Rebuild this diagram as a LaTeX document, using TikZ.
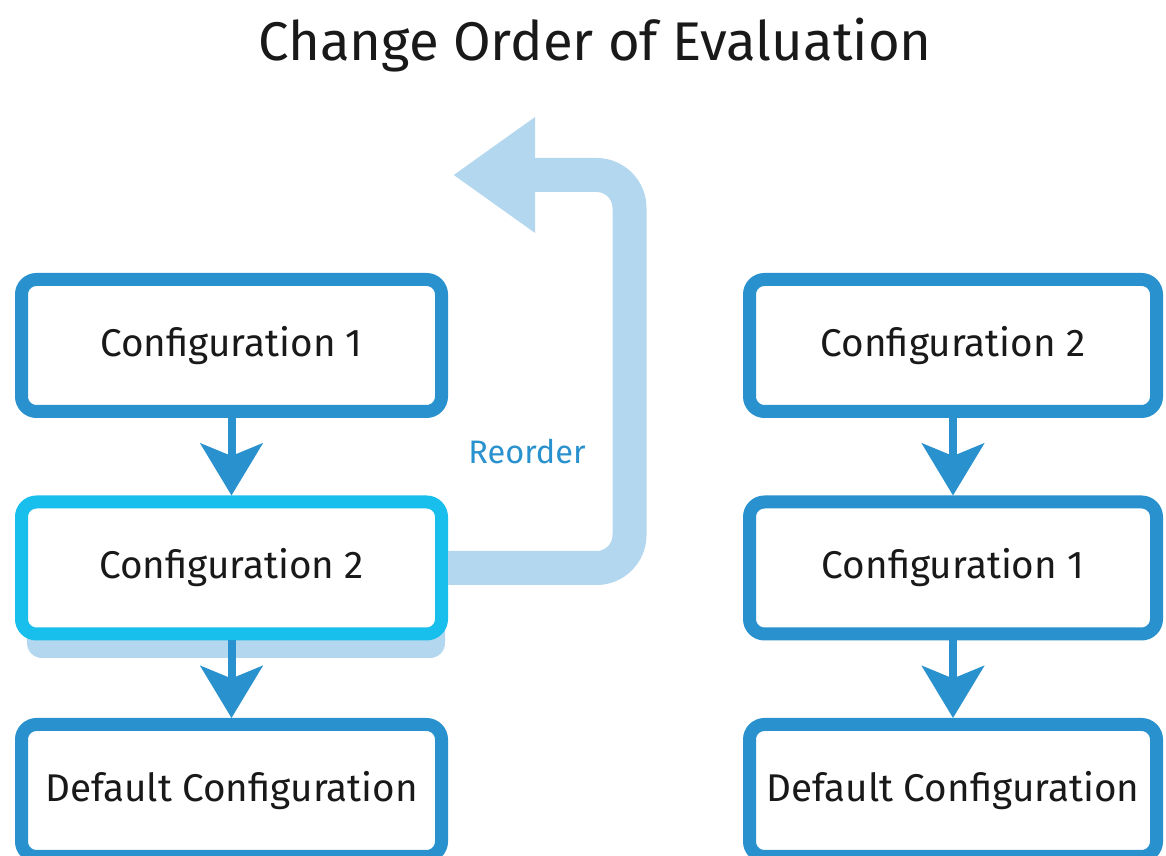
\documentclass[tikz,border=0pt]{standalone}
\usepackage{fontspec}
\setmainfont{Fira Sans}
\usetikzlibrary{arrows.meta,positioning}
\definecolor{boxBlue}{RGB}{41,145,205}
\definecolor{activeCyan}{RGB}{24,190,236}
\definecolor{paleBlue}{RGB}{179,215,238}
\definecolor{inkGray}{RGB}{25,25,25}

\begin{document}
\begin{tikzpicture}[
    config/.style={
        draw=boxBlue,
        fill=white,
        line width=0.26cm,
        rounded corners=0.3cm,
        minimum width=8.4cm,
        minimum height=2.64cm,
        text=inkGray,
        font=\fontsize{22}{26}\selectfont
    },
    active config/.style={
        config,
        draw=activeCyan
    },
    flow/.style={
        boxBlue,
        line width=0.16cm,
        -{Stealth[length=1.04cm,width=1.24cm,inset=0.25cm]}
    },
    reorder/.style={
        paleBlue,
        line width=0.68cm,
        rounded corners=0.66cm,
        -{Triangle[length=1.64cm,width=2.2cm]}
    }
]
\useasboundingbox (0,0) rectangle (23.32,17.12);

%------------------------------------------------
% Title
%------------------------------------------------
\node[inkGray,font=\fontsize{31}{37}\selectfont] (title) at (11.9,16.22)
    {Change Order of Evaluation};

%------------------------------------------------
% Shadow under the moved configuration
%------------------------------------------------
\fill[paleBlue,rounded corners=0.3cm] (0.54,3.96) rectangle (8.9,6.7);

%------------------------------------------------
% Left column: before
%------------------------------------------------
\node[config] (leftone) at (4.63,10.21) {Configuration 1};
\node[active config,below=1.55cm of leftone] (lefttwo) {Configuration 2};
\node[config,below=1.55cm of lefttwo] (leftdefault) {Default Configuration};

\draw[flow] (leftone.south) -- (lefttwo.north);
\draw[flow] (lefttwo.south) -- (leftdefault.north);

%------------------------------------------------
% Reorder arrow
%------------------------------------------------
\coordinate (bend) at (12.59,13.62);
\coordinate (tip) at (9.06,13.62);
\draw[reorder] (lefttwo.east) -| (bend) -- (tip);

\node[boxBlue,font=\fontsize{18.5}{22}\selectfont] (reorderlabel)
    at (10.54,8.08) {Reorder};

%------------------------------------------------
% Right column: after
%------------------------------------------------
\node[config,minimum width=8.14cm] (righttwo) at (19.06,10.21) {Configuration 2};
\node[config,minimum width=8.14cm,below=1.55cm of righttwo] (rightone) {Configuration 1};
\node[config,minimum width=8.14cm,below=1.55cm of rightone] (rightdefault) {Default Configuration};

\draw[flow] (righttwo.south) -- (rightone.north);
\draw[flow] (rightone.south) -- (rightdefault.north);

\end{tikzpicture}
\end{document}
